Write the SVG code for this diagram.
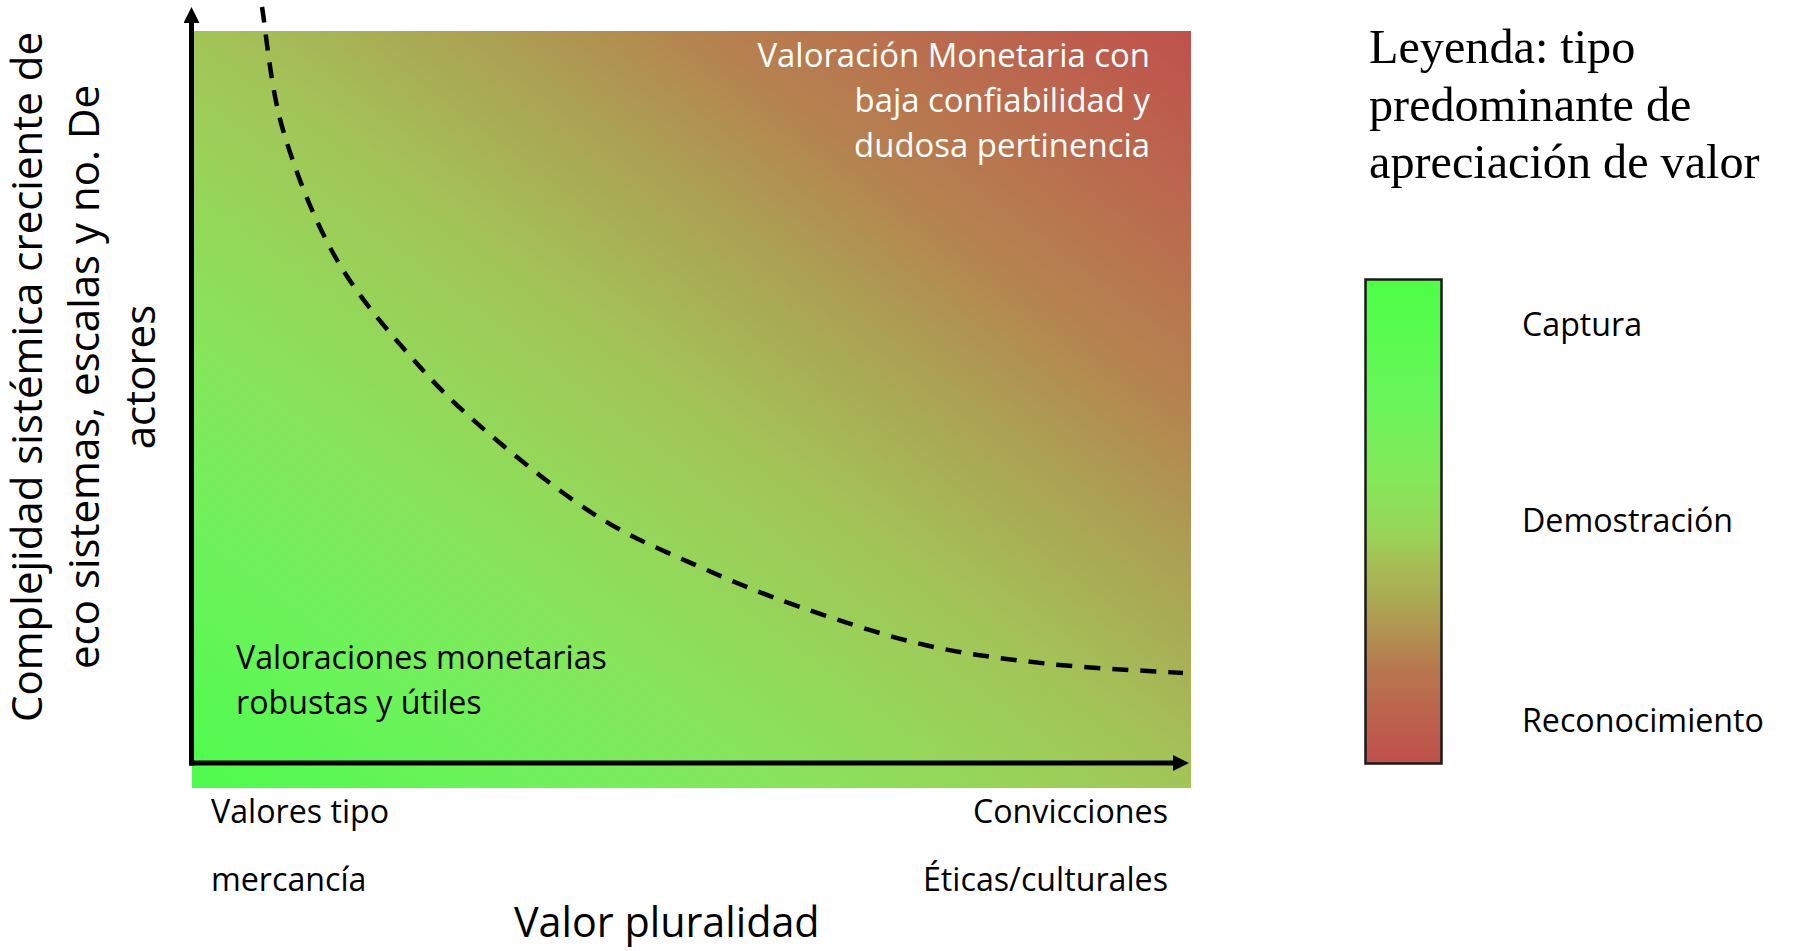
<svg xmlns="http://www.w3.org/2000/svg" width="1806" height="951" viewBox="0 0 1806 951">
<style>
.sans{font-family:"Open Sans","Noto Sans","Liberation Sans",sans-serif;}
.lbl{font-size:32.2px;fill:#000;}
.wlbl{font-size:32.9px;fill:#fff;}
.ylbl{font-size:42px;fill:#000;}
.xtitle{font-size:41.3px;fill:#000;}
.serif{font-family:"Liberation Serif","Times New Roman",serif;font-size:48.2px;fill:#000;}
.axis{stroke:#000;stroke-width:5;fill:none;}
.dash{stroke:#000;stroke-width:4.5;fill:none;stroke-dasharray:16 12;}
</style>
<defs>
<linearGradient id="gPlot" x1="0" y1="1" x2="1" y2="0">
<stop offset="0" stop-color="#4dfb4d"/>
<stop offset="0.16" stop-color="#6cf35a"/>
<stop offset="0.3" stop-color="#88e55a"/>
<stop offset="0.5" stop-color="#a3c558"/>
<stop offset="0.65" stop-color="#ac9f53"/>
<stop offset="0.75" stop-color="#b5834f"/>
<stop offset="1" stop-color="#c0504d"/>
</linearGradient>
<linearGradient id="gLegend" x1="0" y1="0" x2="0" y2="1">
<stop offset="0" stop-color="#4dff46"/>
<stop offset="0.23" stop-color="#66f75a"/>
<stop offset="0.41" stop-color="#85e85a"/>
<stop offset="0.52" stop-color="#98d658"/>
<stop offset="0.59" stop-color="#a7bd55"/>
<stop offset="0.66" stop-color="#abaa53"/>
<stop offset="0.74" stop-color="#b38e50"/>
<stop offset="0.81" stop-color="#b8764f"/>
<stop offset="0.92" stop-color="#bd5e4d"/>
<stop offset="1" stop-color="#c0504d"/>
</linearGradient>
<marker id="arrow" markerUnits="userSpaceOnUse" viewBox="0 0 16 16" refX="6" refY="8" markerWidth="16" markerHeight="16" orient="auto">
<path d="M0,0 L16,8 L0,16 z" fill="#000"/>
</marker>
</defs>
<rect width="1806" height="951" fill="#fff"/>

<g id="plot-area">
<rect x="192" y="31" width="999" height="757" fill="url(#gPlot)"/>
</g>

<g id="connectors">
<line id="y-axis" class="axis" x1="191.5" y1="765.5" x2="191.5" y2="17" marker-end="url(#arrow)"/>
<line id="x-axis" class="axis" x1="189" y1="763" x2="1179" y2="763" marker-end="url(#arrow)"/>
<path id="frontier-curve" class="dash" d="M262,7 C265.5,27.5 270.5,87.8 283,130 C295.5,172.2 314.2,220.5 337,260 C359.8,299.5 392.8,336.5 420,367 C447.2,397.5 470,417.8 500,443 C530,468.2 566.7,497.3 600,518 C633.3,538.7 666.7,552.2 700,567 C733.3,581.8 762.5,594 800,607 C837.5,620 883.3,635.5 925,645 C966.7,654.5 1007,659.3 1050,664 C1093,668.7 1160.8,671.5 1183,673"/>
</g>

<g id="label-high">
<text class="sans wlbl" text-anchor="end" x="1150" y="67">Valoración Monetaria con</text>
<text class="sans wlbl" text-anchor="end" x="1150" y="112">baja confiabilidad y</text>
<text class="sans wlbl" text-anchor="end" x="1150" y="157">dudosa pertinencia</text>
</g>

<g id="label-low">
<text class="sans lbl" x="236" y="669">Valoraciones monetarias</text>
<text class="sans lbl" x="236" y="714">robustas y útiles</text>
</g>

<g id="y-axis-title">
<text class="sans ylbl" text-anchor="middle" transform="translate(42,377) rotate(-90)">Complejidad sistémica creciente de</text>
<text class="sans ylbl" text-anchor="middle" transform="translate(99,377) rotate(-90)">eco sistemas, escalas y no. De</text>
<text class="sans ylbl" text-anchor="middle" transform="translate(155,377) rotate(-90)">actores</text>
</g>

<g id="x-axis-left">
<text class="sans lbl" x="211" y="823">Valores tipo</text>
<text class="sans lbl" x="211" y="891">mercancía</text>
</g>

<g id="x-axis-right">
<text class="sans lbl" text-anchor="end" x="1168" y="823">Convicciones</text>
<text class="sans lbl" text-anchor="end" x="1168" y="891">Éticas/culturales</text>
</g>

<g id="x-axis-title">
<text class="sans xtitle" x="514" y="937">Valor pluralidad</text>
</g>

<g id="legend">
<text class="serif" x="1369" y="63">Leyenda: tipo</text>
<text class="serif" x="1369" y="121">predominante de</text>
<text class="serif" x="1369" y="178">apreciación de valor</text>
<rect x="1365.5" y="279.5" width="76" height="484" fill="url(#gLegend)" stroke="#1a1a1a" stroke-width="2.5"/>
<text class="sans lbl" x="1522" y="336">Captura</text>
<text class="sans lbl" x="1522" y="532">Demostración</text>
<text class="sans lbl" x="1522" y="732">Reconocimiento</text>
</g>
</svg>
